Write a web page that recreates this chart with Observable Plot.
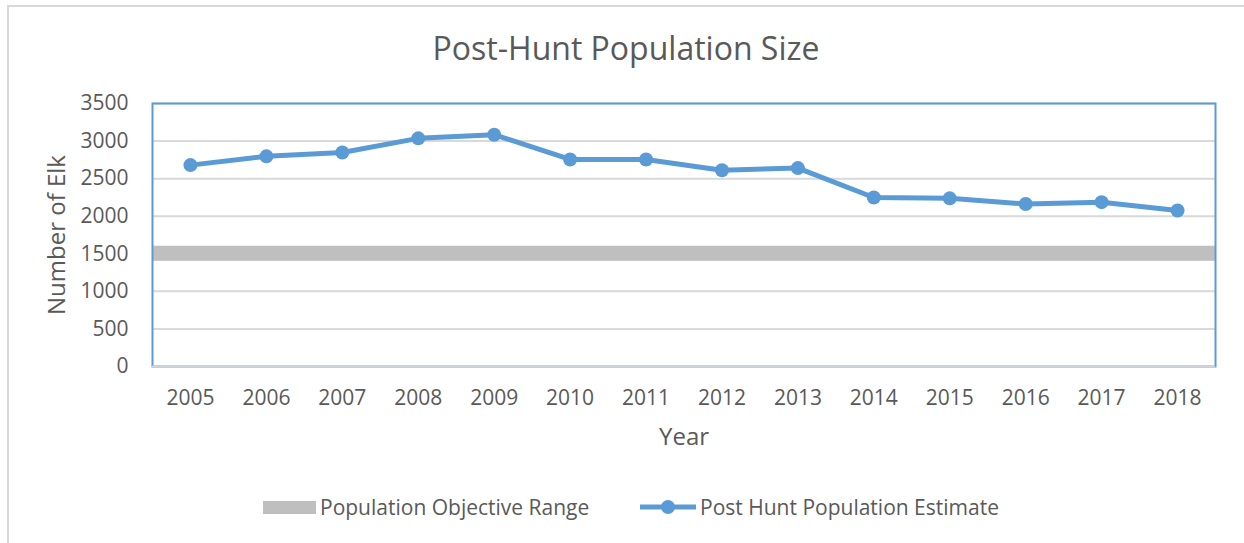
<!DOCTYPE html>
<html><head><meta charset="utf-8">
<script src="https://cdn.jsdelivr.net/npm/d3@7"></script>
<script src="https://cdn.jsdelivr.net/npm/@observablehq/plot@0.6"></script>
<style>
html,body{margin:0;padding:0;background:#fff;overflow:hidden;width:1244px;height:543px;}
body{position:relative;font-family:"Open Sans",sans-serif;color:#595959;}
#frame{position:absolute;left:7px;top:5px;width:1300px;height:600px;border:2px solid #D9D9D9;box-sizing:border-box;}
#title{position:absolute;left:0;width:1252px;top:27px;text-align:center;font-size:32px;line-height:42px;}
#chart{position:absolute;left:0;top:80px;}
#legend{position:absolute;top:490px;left:0;width:1244px;height:34px;font-size:21px;}
.item{position:absolute;top:0;height:34px;display:flex;align-items:center;white-space:nowrap;}
.sw{display:inline-block;width:53px;height:13px;background:#BFBFBF;margin-right:4px;}
</style></head>
<body>
<div id="frame"></div>
<div id="title">Post-Hunt Population Size</div>
<div id="chart"></div>
<div id="legend">
  <div class="item" style="left:263px"><span class="sw"></span><span>Population Objective Range</span></div>
  <div class="item" style="left:640px"><svg width="58" height="20" style="margin-right:2px"><line x1="0" x2="56" y1="10" y2="10" stroke="#5B9BD5" stroke-width="5"/><circle cx="28" cy="10" r="7" fill="#5B9BD5"/></svg><span>Post Hunt Population Estimate</span></div>
</div>
<script>
const years = ["2005","2006","2007","2008","2009","2010","2011","2012","2013","2014","2015","2016","2017","2018"];
const estimates = [2680, 2797, 2848, 3036, 3085, 2755, 2755, 2612, 2640, 2249, 2238, 2162, 2187, 2076];
const objectiveRange = [1400, 1600];
const yTicks = [0, 500, 1000, 1500, 2000, 2500, 3000, 3500];

const data = years.map((y, i) => ({year: y, value: estimates[i]}));
const band = [{lo: objectiveRange[0], hi: objectiveRange[1]}];

const chart = Plot.plot({
  width: 1244, height: 400,
  marginLeft: 152, marginRight: 29, marginTop: 23, marginBottom: 114,
  x: {type: "band", domain: years, padding: 0, round: false},
  y: {domain: [0, 3500]},
  style: {fontFamily: "'Open Sans', sans-serif", fontSize: "22px", color: "#595959", overflow: "visible"},
  marks: [
    Plot.ruleY(yTicks.slice(1), {stroke: "#D9D9D9", strokeWidth: 2}),
    Plot.rect(band, {y1: "lo", y2: "hi", fill: "#BFBFBF"}),
    Plot.frame({stroke: "#5B9BD5", strokeWidth: 2}),
    Plot.ruleY([0], {stroke: "#D0D6DD", strokeWidth: 2}),
    Plot.line(data, {x: "year", y: "value", stroke: "#5B9BD5", strokeWidth: 5}),
    Plot.dot(data, {x: "year", y: "value", r: 7, fill: "#5B9BD5"}),
    Plot.axisX({tickSize: 0, tickPadding: 24, label: null, fontSize: 21}),
    Plot.axisY({ticks: yTicks, tickFormat: d => String(d), tickSize: 0, tickPadding: 24, label: null, fontSize: 21}),
    Plot.text(["Year"], {frameAnchor: "bottom", dy: 78, fontSize: 24, fill: "#595959"}),
    Plot.text(["Number of Elk"], {frameAnchor: "left", textAnchor: "middle", dx: -95, rotate: -90, fontSize: 24, fill: "#595959"})
  ]
});
document.getElementById("chart").appendChild(chart);
</script>
</body></html>
